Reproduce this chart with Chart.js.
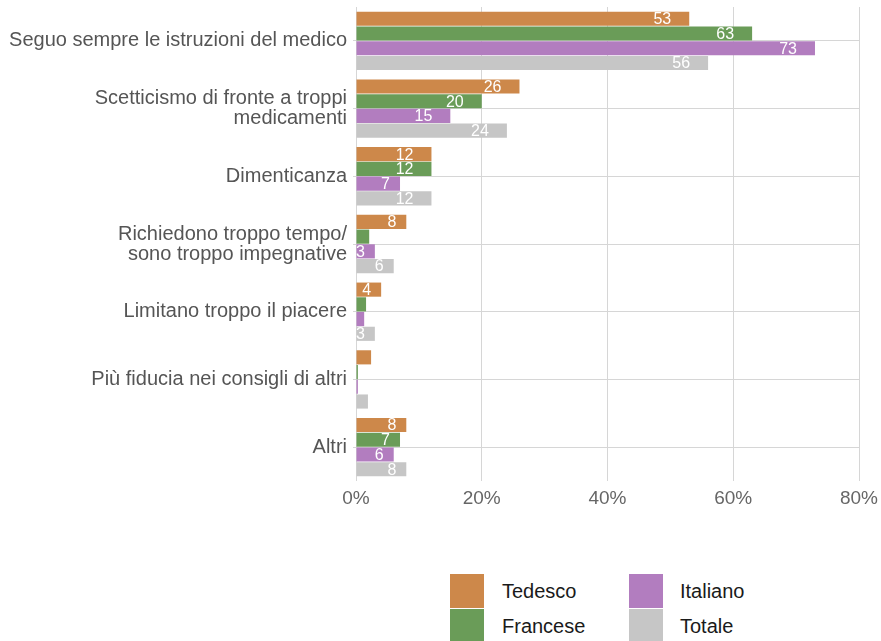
<!DOCTYPE html>
<html>
<head>
<meta charset="utf-8">
<script src="https://cdn.jsdelivr.net/npm/chart.js@4"></script>
<style>
  body { margin: 0; background: #fff; font-family: "Liberation Sans", Arial, sans-serif; }
  #wrap { position: relative; width: 881px; height: 641px; overflow: hidden; }
  #box { position: absolute; left: 0; top: 0; width: 881px; height: 520px; }
  .leg { position: absolute; font-size: 20px; color: #1a1a1a; }
  .leg span.sw { position: absolute; width: 34px; height: 34px; }
  .leg span.tx { position: absolute; white-space: nowrap; line-height: 34px; }
</style>
</head>
<body>
<div id="wrap">
  <div id="box"><canvas id="chart"></canvas></div>
  <div id="legend"></div>
</div>
<script>
const categories = [
  "Seguo sempre le istruzioni del medico",
  ["Scetticismo di fronte a troppi", "medicamenti"],
  "Dimenticanza",
  ["Richiedono troppo tempo/", "sono troppo impegnative"],
  "Limitano troppo il piacere",
  "Più fiducia nei consigli di altri",
  "Altri"
];
const seriesNames = ["Tedesco", "Francese", "Italiano", "Totale"];
const seriesColors = ["#cd884a", "#6a9c58", "#b27dbf", "#c6c6c6"];
const tedesco  = [53, 26, 12, 8, 4, 2.4, 8];
const francese = [63, 20, 12, 2.1, 1.6, 0.3, 7];
const italiano = [73, 15, 7, 3, 1.3, 0.3, 6];
const totale   = [56, 24, 12, 6, 3, 1.9, 8];
const xTicks = [0, 20, 40, 60, 80];

const seriesValues = [tedesco, francese, italiano, totale];

// white value labels inside the bar ends
const valueLabels = {
  id: "valueLabels",
  afterDatasetsDraw(c) {
    const ctx = c.ctx;
    ctx.save();
    ctx.font = "16px 'Liberation Sans', Arial, sans-serif";
    ctx.fillStyle = "#fff";
    ctx.textAlign = "right";
    ctx.textBaseline = "middle";
    c.data.datasets.forEach((ds, i) => {
      c.getDatasetMeta(i).data.forEach((el, j) => {
        const v = ds.data[j];
        if (v < 2.5) return;
        const s = String(Math.round(v));
        ctx.fillText(s, el.x - (s.length > 1 ? 18 : 10), el.y + 1);
      });
    });
    ctx.restore();
  }
};

const chart = new Chart(document.getElementById("chart"), {
  type: "bar",
  data: {
    labels: categories,
    datasets: seriesNames.map((name, i) => ({
      label: name,
      data: seriesValues[i],
      backgroundColor: seriesColors[i],
      categoryPercentage: 0.87,
      barPercentage: 0.96
    }))
  },
  plugins: [valueLabels],
  options: {
    indexAxis: "y",
    responsive: true,
    maintainAspectRatio: false,
    animation: false,
    layout: { padding: { top: 7, right: 22, left: 0, bottom: 0 } },
    plugins: {
      legend: { display: false },
      tooltip: { enabled: false }
    },
    scales: {
      x: {
        min: 0,
        max: 80,
        afterFit(a) { a.height = 39; a.paddingLeft = 0; a.paddingRight = 0; },
        afterBuildTicks(a) { a.ticks = xTicks.map(v => ({ value: v })); },
        grid: { color: "#d6d6d6", lineWidth: 1, tickLength: 0, drawTicks: false },
        border: { display: false },
        ticks: {
          color: "#666",
          padding: 6,
          font: { size: 19, family: "'Liberation Sans', Arial, sans-serif" },
          callback: v => v + "%"
        }
      },
      y: {
        afterFit(a) { a.width = 356; a.paddingTop = 0; a.paddingBottom = 0; },
        grid: { offset: false, color: "#d6d6d6", lineWidth: 1, tickLength: 3 },
        border: { display: false },
        ticks: {
          color: "#555",
          padding: 6,
          font: { size: 20, family: "'Liberation Sans', Arial, sans-serif", lineHeight: 1.0 }
        }
      }
    }
  }
});

// 2x2 legend below the chart
const legendPos = [[450, 574], [450, 609], [629, 574], [629, 609]];
const legend = document.getElementById("legend");
seriesNames.forEach((name, i) => {
  const d = document.createElement("div");
  d.className = "leg";
  d.style.left = legendPos[i][0] + "px";
  d.style.top = legendPos[i][1] + "px";
  d.innerHTML = '<span class="sw" style="left:0;top:0;background:' + seriesColors[i] +
    '"></span><span class="tx" style="left:' + (i < 2 ? 52 : 51) + 'px;top:0">' + name + '</span>';
  legend.appendChild(d);
});
</script>
</body>
</html>
